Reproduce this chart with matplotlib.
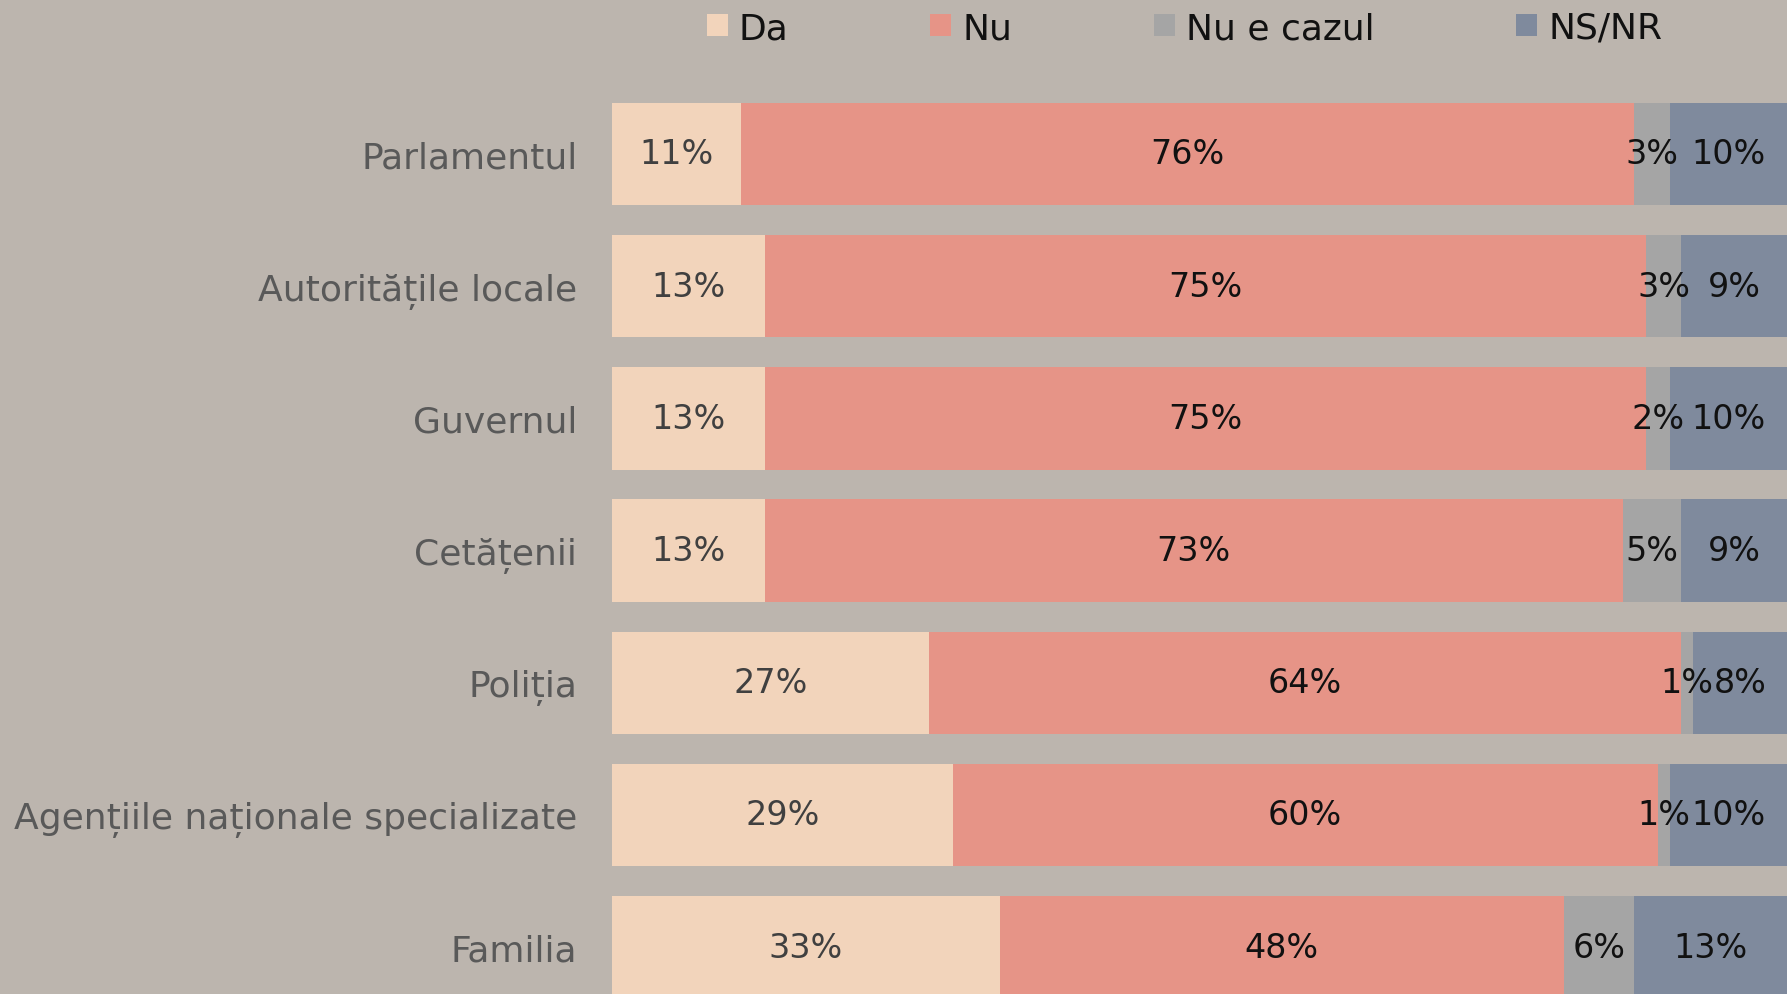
import matplotlib
matplotlib.use("Agg")
import matplotlib.pyplot as plt
from matplotlib.patches import Patch

categories = ["Parlamentul", "Autoritățile locale", "Guvernul", "Cetățenii",
              "Poliția", "Agențiile naționale specializate", "Familia"]
series_names = ["Da", "Nu", "Nu e cazul", "NS/NR"]
da = [11, 13, 13, 13, 27, 29, 33]
nu = [76, 75, 75, 73, 64, 60, 48]
nu_e_cazul = [3, 3, 2, 5, 1, 1, 6]
ns_nr = [10, 9, 10, 9, 8, 10, 13]

colors = ["#f2d4bb", "#e69487", "#a5a5a5", "#7f8a9d"]
text_colors = ["#404040", "#111111", "#111111", "#111111"]
bg = "#bcb5ae"

plt.rcParams['font.family'] = ['DejaVu Sans']
W, H = 1787, 995
fig = plt.figure(figsize=(W / 100, H / 100), dpi=100, facecolor=bg)
ax = fig.add_axes([612 / W, 0, 1 - 612 / W, 1])
ax.set_facecolor(bg)

spacing = 132.2
top_off = 155 / spacing
bot = (H - 155) / spacing
ypos = list(range(len(categories)))

left = [0] * len(categories)
for vals, name, c, tc in zip([da, nu, nu_e_cazul, ns_nr], series_names, colors, text_colors):
    bars = ax.barh(ypos, vals, left=left, height=0.776, color=c, label=name, linewidth=0)
    for b, v in zip(bars, vals):
        ax.text(b.get_x() + b.get_width() / 2, b.get_y() + b.get_height() / 2,
                f"{v}%", ha="center", va="center", fontsize=24, color=tc)
    left = [l + v for l, v in zip(left, vals)]

ax.set_xlim(0, 100)
ax.set_ylim(bot, -top_off)
ax.set_yticks(ypos)
ax.set_yticklabels(categories, fontsize=26, color="#595959")
ax.tick_params(axis="y", length=0, pad=25)
ax.set_xticks([])
for s in ax.spines.values():
    s.set_visible(False)

handles = [Patch(facecolor=c, edgecolor="none") for c in colors]
fig.legend(handles, series_names, ncol=4, loc="center left",
           bbox_to_anchor=(707 / W, 1 - 29 / H), frameon=False, fontsize=26,
           handlelength=0.58, handleheight=0.58, handletextpad=0.3,
           columnspacing=3.93, borderaxespad=0, borderpad=0, labelcolor="#111111")

fig.savefig("out.png", dpi=100, facecolor=bg)
